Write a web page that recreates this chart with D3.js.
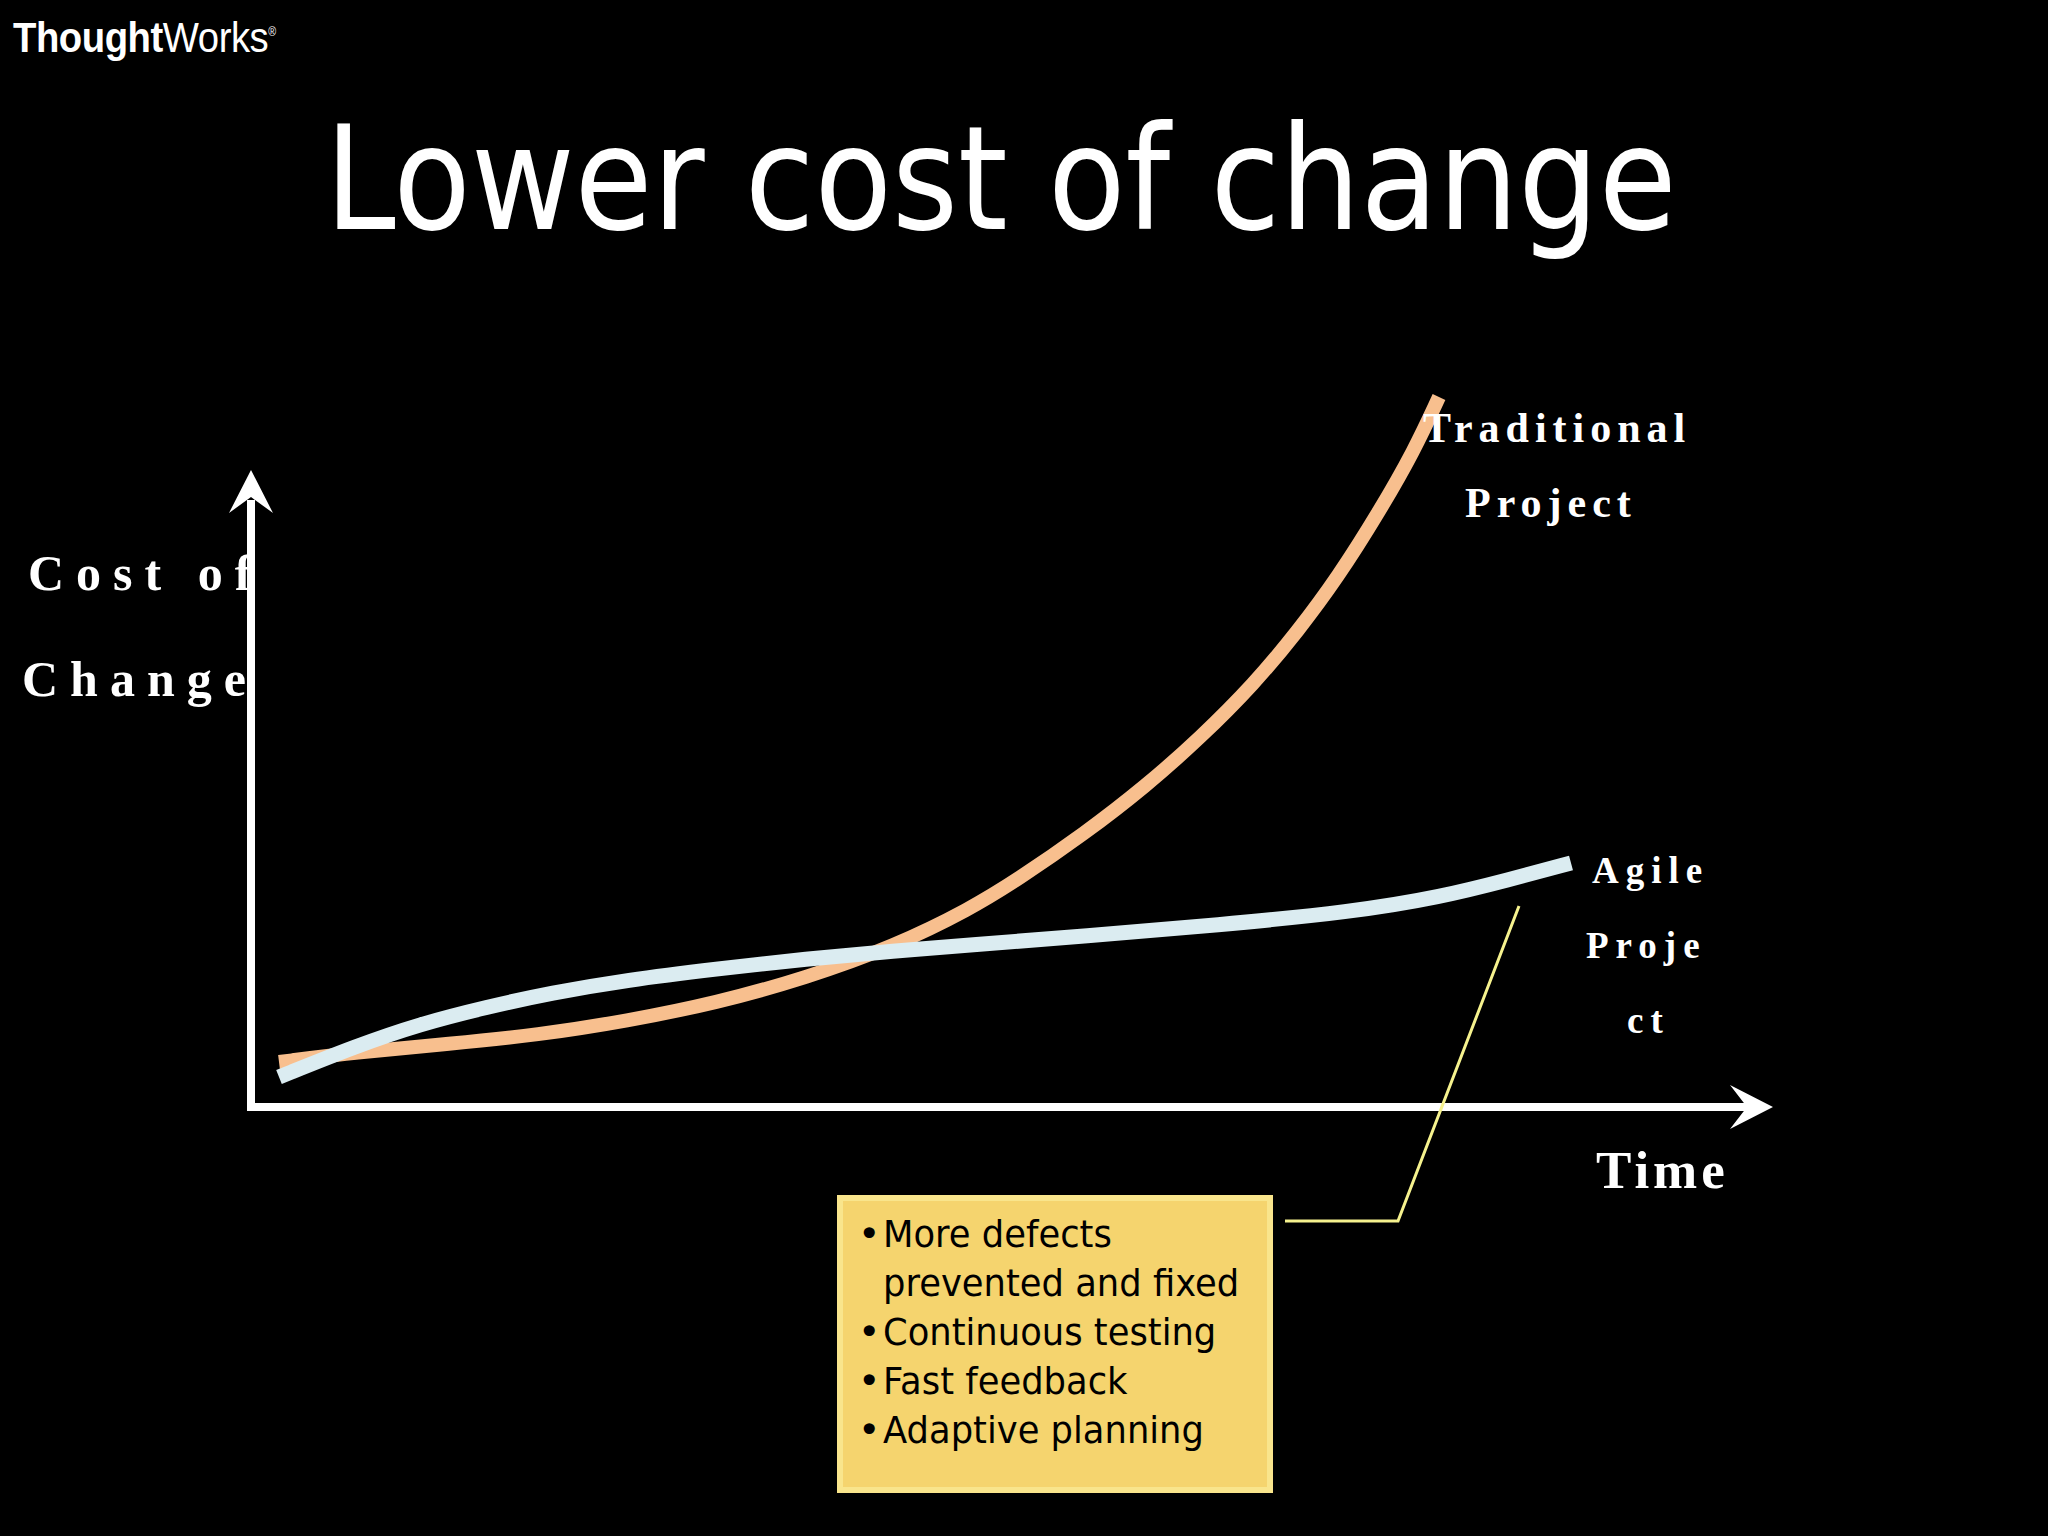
<!DOCTYPE html>
<html>
<head>
<meta charset="utf-8">
<script src="https://cdn.jsdelivr.net/npm/d3@7/dist/d3.min.js"></script>
<style>
  html, body { margin: 0; padding: 0; background: #000; }
  svg { display: block; }
</style>
</head>
<body>
<div id="chart"></div>
<script>
// [time, cost]
const traditionalProject = [
  [2.8, 4.5], [10.8, 5.5], [19.8, 6.3], [28.7, 7.2], [37.6, 8.6], [46.5, 10.4],
  [55.5, 12.9], [64.4, 16.1], [71.9, 19.8], [76.6, 22.7], [83.3, 27.3], [89.5, 32.1],
  [94.9, 36.9], [100.3, 42.3], [104.7, 47.6], [108.7, 53.0], [112.8, 59.5],
  [116.3, 65.6], [118.8, 71.0]
];
const agileProject = [
  [2.8, 3.0], [10.5, 6.1], [16.9, 8.3], [23.6, 10.0], [30.0, 11.4], [37.6, 12.7],
  [46.5, 13.8], [55.5, 14.8], [64.4, 15.6], [71.9, 16.2], [83.3, 17.1], [96.7, 18.2],
  [110.1, 19.5], [119.0, 21.0], [125.7, 22.7], [132.0, 24.4]
];
// callout from the note box to the agile curve
const calloutPath = [[103.4, -11.4], [114.7, -11.4], [126.8, 20.1]];

const slideTitle = "Lower cost of change";
const yAxisLabel = ["Cost of", "Change"];
const xAxisLabel = "Time";
const traditionalLabel = ["Traditional", "Project"];
const agileLabel = ["Agile", "Proje", "ct"];
const benefits = [
  ["More defects", "prevented and fixed"],
  ["Continuous testing"],
  ["Fast feedback"],
  ["Adaptive planning"]
];

//#region Setup
const width = 2048;
const height = 1536;
const svg = d3.select("#chart").append("svg")
  .attr("width", width)
  .attr("height", height);

svg.append("rect")
  .attr("width", width)
  .attr("height", height)
  .attr("fill", "#000");

const x = d3.scaleLinear().domain([0, 150]).range([251, 1751]);
const y = d3.scaleLinear().domain([0, 72]).range([1107, 387]);
const xEnd = 152.2; // arrow tips, in data units
const yEnd = 63.7;

const serif = "'Liberation Serif', 'Times New Roman', serif";
const sans = "'DejaVu Sans', Verdana, sans-serif";
//#endregion

//#region Logo + title
const logo = svg.append("text")
  .attr("transform", "translate(13,52) scale(0.89,1)")
  .attr("fill", "#fff")
  .style("font-family", "'Liberation Sans', Arial, sans-serif")
  .style("font-size", "43px")
  .style("letter-spacing", "-0.5px");
logo.append("tspan").attr("font-weight", "bold").text("Thought");
logo.append("tspan").text("Works");
logo.append("tspan").attr("dy", -16).style("font-size", "12px").text("®");

svg.append("text")
  .attr("transform", "translate(325,229) scale(0.88,1)")
  .attr("fill", "#fff")
  .style("font-family", sans)
  .style("font-size", "144px")
  .text(slideTitle);
//#endregion

//#region Axis labels (drawn under the axes)
svg.selectAll(".ylabel")
  .data(yAxisLabel)
  .enter()
  .append("text")
  .attr("class", "ylabel")
  .attr("x", (d, i) => (i === 0 ? 28 : 22))
  .attr("y", (d, i) => 590 + i * 106)
  .attr("fill", "#fff")
  .style("font-family", serif)
  .style("font-weight", "bold")
  .style("font-size", "50px")
  .style("letter-spacing", "12px")
  .text(d => d);

svg.append("text")
  .attr("x", 1596)
  .attr("y", 1188)
  .attr("fill", "#fff")
  .style("font-family", serif)
  .style("font-weight", "bold")
  .style("font-size", "53px")
  .style("letter-spacing", "4px")
  .text(xAxisLabel);
//#endregion

//#region Axes with arrow heads
const axes = svg.append("g").attr("id", "axes");
axes.append("line")
  .attr("x1", x(0)).attr("y1", y(0) + 4)
  .attr("x2", x(0)).attr("y2", y(yEnd) + 30)
  .attr("stroke", "#fff").attr("stroke-width", 8);
axes.append("line")
  .attr("x1", x(0) - 4).attr("y1", y(0))
  .attr("x2", x(xEnd) - 25).attr("y2", y(0))
  .attr("stroke", "#fff").attr("stroke-width", 8);

const ty = y(yEnd);
axes.append("path")
  .attr("d", `M${x(0)},${ty} L${x(0) + 22},${ty + 43} L${x(0)},${ty + 27} L${x(0) - 22},${ty + 43} Z`)
  .attr("fill", "#fff");
const tx = x(xEnd);
axes.append("path")
  .attr("d", `M${tx},${y(0)} L${tx - 43},${y(0) - 22} L${tx - 26},${y(0)} L${tx - 43},${y(0) + 22} Z`)
  .attr("fill", "#fff");
//#endregion

//#region Curves
const line = d3.line()
  .x(d => x(d[0]))
  .y(d => y(d[1]))
  .curve(d3.curveBasis);

svg.append("path")
  .datum(traditionalProject)
  .attr("d", line)
  .attr("fill", "none")
  .attr("stroke", "#F8BF8E")
  .attr("stroke-width", 14);

svg.append("path")
  .datum(agileProject)
  .attr("d", line)
  .attr("fill", "none")
  .attr("stroke", "#DBECF1")
  .attr("stroke-width", 15);
//#endregion

//#region Curve labels
const curveLabel = (lines, x0s, y0, step, size, spacing) => {
  svg.append("g").selectAll("text")
    .data(lines)
    .enter()
    .append("text")
    .attr("x", (d, i) => x0s[i])
    .attr("y", (d, i) => y0 + i * step)
    .attr("fill", "#fff")
    .style("font-family", serif)
    .style("font-weight", "bold")
    .style("font-size", size + "px")
    .style("letter-spacing", spacing + "px")
    .text(d => d);
};
curveLabel(traditionalLabel, [1423, 1465], 442, 75, 42, 6);
curveLabel(agileLabel, [1592, 1586, 1627], 883, 75, 37, 7);
//#endregion

//#region Note box + callout
svg.append("path")
  .datum(calloutPath)
  .attr("d", d3.line().x(d => x(d[0])).y(d => y(d[1])))
  .attr("fill", "none")
  .attr("stroke", "#F6F28E")
  .attr("stroke-width", 3);

svg.append("rect")
  .attr("x", 840).attr("y", 1198)
  .attr("width", 430).attr("height", 292)
  .attr("fill", "#F5D46E")
  .attr("stroke", "#F9E58C")
  .attr("stroke-width", 6);

let row = 0;
benefits.forEach(item => {
  item.forEach((txt, j) => {
    const base = 1247 + row * 49;
    if (j === 0) {
      svg.append("text")
        .attr("x", 858).attr("y", base)
        .attr("fill", "#000")
        .style("font-family", sans)
        .style("font-size", "38px")
        .text("•");
    }
    svg.append("text")
      .attr("transform", `translate(883,${base}) scale(0.93,1)`)
      .attr("fill", "#000")
      .style("font-family", sans)
      .style("font-size", "38px")
      .text(txt);
    row++;
  });
});
//#endregion
</script>
</body>
</html>
